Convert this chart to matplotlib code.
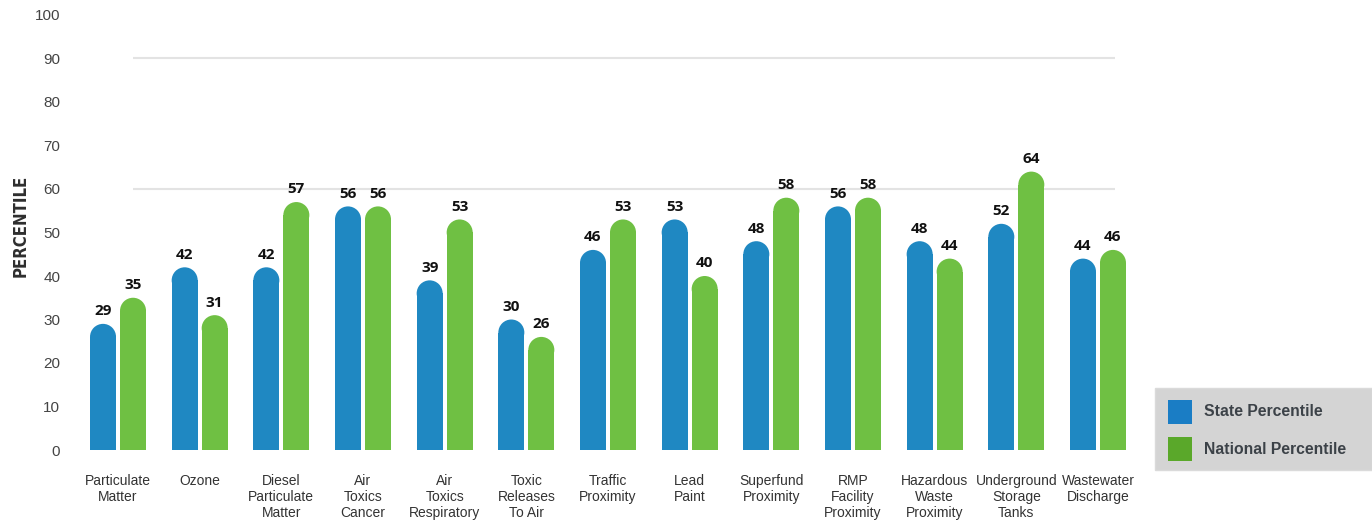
import matplotlib
matplotlib.use('Agg')
import matplotlib.pyplot as plt
from matplotlib.patches import Ellipse, Rectangle
import numpy as np

categories = ['Particulate\nMatter', 'Ozone', 'Diesel\nParticulate\nMatter', 'Air\nToxics\nCancer',
              'Air\nToxics\nRespiratory', 'Toxic\nReleases\nTo Air', 'Traffic\nProximity', 'Lead\nPaint',
              'Superfund\nProximity', 'RMP\nFacility\nProximity', 'Hazardous\nWaste\nProximity',
              'Underground\nStorage\nTanks', 'Wastewater\nDischarge']
state = [29, 42, 42, 56, 39, 30, 46, 53, 48, 56, 48, 52, 44]
national = [35, 31, 57, 56, 53, 26, 53, 40, 58, 58, 44, 64, 46]
series_names = ['State Percentile', 'National Percentile']
yticks = [0, 10, 20, 30, 40, 50, 60, 70, 80, 90, 100]
gridvals = [60, 90]

blue = '#1f88c2'
green = '#6fc043'

W, H = 1372, 527
fig = plt.figure(figsize=(W/100, H/100), dpi=100)
ax = fig.add_axes([70/W, (H-450)/H, (1146-70)/W, (450-15)/H])

x = np.arange(len(categories))
ax.set_xlim(-0.588, len(categories) - 1 + 0.588)
ax.set_ylim(0, 100)

# pixel -> data conversion for the rounded caps
px_x = (len(categories) - 1 + 2*0.588) / (1146-70)
px_y = 100 / (450-15)
bw = 26 * px_x
off = 15 * px_x
cap_h = 26 * px_y

ax.hlines(gridvals, 0.183, 12.207, color='#e3e3e3', lw=1.5, zorder=0)

for xs, vals, col in [(x - off, state, blue), (x + off, national, green)]:
    body = [v - cap_h/2 for v in vals]
    ax.bar(xs, body, width=bw, color=col, zorder=2)
    for xi, v in zip(xs, vals):
        ax.add_patch(Ellipse((xi, v - cap_h/2), bw, cap_h, color=col, zorder=2, lw=0))
        ax.annotate(str(v), (xi, v), xytext=(0, 4), textcoords='offset points',
                    ha='center', va='bottom', fontsize=11, fontweight='bold',
                    family='Open Sans', color='#111111')

ax.set_xticks(x)
ax.set_xticklabels(categories, fontsize=10, family='Liberation Sans', color='#333333', va='top')
ax.set_yticks(yticks)
ax.set_yticklabels([str(t) for t in yticks], fontsize=11, family='Liberation Sans', color='#444444')
ax.tick_params(axis='x', length=0, pad=17)
ax.tick_params(axis='y', length=0, pad=7)
for s in ax.spines.values():
    s.set_visible(False)

fig.text(21/W, (H-226)/H, 'PERCENTILE', rotation=90, ha='center', va='center',
         fontsize=12, fontweight='bold', fontstretch='condensed', family='DejaVu Sans',
         color='#2e2e2e')

# legend panel (drawn by hand so the box matches)
fig.patches.append(Rectangle((1155/W, (H-470)/H), (W-1155)/W, 82/H, transform=fig.transFigure,
                             facecolor='#d4d4d4', edgecolor='#dadada', lw=1, zorder=0))
leg_cols = ['#1a7dc5', '#5aa82a']
for i, (name, c) in enumerate(zip(series_names, leg_cols)):
    top = 400 + i*37
    fig.patches.append(Rectangle((1168/W, (H-top-24)/H), 24/W, 24/H, transform=fig.transFigure,
                                 facecolor=c, edgecolor='none', zorder=1))
    fig.text(1204/W, (H-top-12)/H, name, ha='left', va='center', fontsize=11.3,
             fontweight='bold', family='Liberation Sans', color='#3c4248')

plt.savefig('out.png', dpi=100)
plt.close()
